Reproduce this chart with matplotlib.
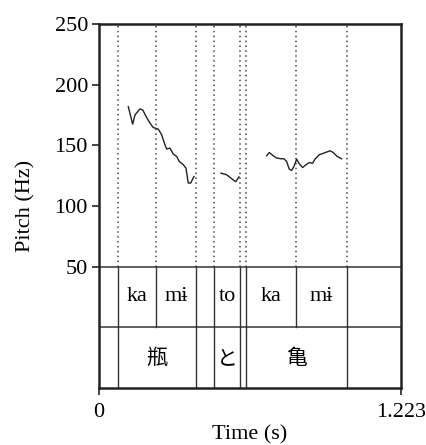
import matplotlib
matplotlib.use("Agg")
import matplotlib.pyplot as plt

# pitch contour pieces (time in s, F0 in Hz)
seg1_t = [0.1186, 0.1364, 0.1457, 0.1660, 0.1769, 0.1931, 0.2065, 0.2198,
          0.2401, 0.2538, 0.2672, 0.2741, 0.2874, 0.3008, 0.3146, 0.3251,
          0.3413, 0.3522, 0.3615, 0.3713, 0.3846]
seg1_f = [181.9, 167.4, 175.1, 180.0, 179.2, 172.9, 168.3, 164.7,
          163.3, 158.6, 150.4, 146.9, 147.7, 142.8, 140.8, 136.7,
          134.0, 131.2, 118.9, 118.9, 124.3]
seg2_t = [0.4939, 0.5170, 0.5534, 0.5668]
seg2_f = [127.1, 125.7, 120.0, 124.0]
seg3_t = [0.6790, 0.6895, 0.7057, 0.7194, 0.7397, 0.7490, 0.7599, 0.7704,
          0.7802, 0.7895, 0.8004, 0.8109, 0.8247, 0.8380, 0.8514, 0.8652,
          0.8745, 0.8919, 0.9109, 0.9352, 0.9486, 0.9648, 0.9826]
seg3_f = [141.4, 144.1, 141.4, 139.5, 138.9, 138.9, 136.7, 130.4,
          129.3, 132.6, 138.6, 134.8, 131.7, 134.0, 135.8, 135.3,
          138.6, 142.2, 143.6, 145.5, 144.1, 140.8, 138.9]

# TextGrid tiers
syl_bounds = [0.0757, 0.2296, 0.3927, 0.4668, 0.5721, 0.5939, 0.7976, 1.0053]
syl_start = [0.0757, 0.2296, 0.4668, 0.5939, 0.7976]
syl_end = [0.2296, 0.3927, 0.5721, 0.7976, 1.0053]
syl_text = ["ka", "mɨ", "to", "ka", "mɨ"]
word_bounds = [0.0757, 0.3927, 0.4668, 0.5721, 0.5939, 1.0053]
word_start = [0.0757, 0.4668, 0.5939]
word_end = [0.3927, 0.5721, 1.0053]
word_text = ["瓶", "と", "亀"]

t_max = 1.223
f_min, f_max = 50, 250
tier_h = 50

serif = ["Liberation Serif", "DejaVu Serif"]
cjk = ["Noto Sans CJK JP", "DejaVu Sans"]

fig = plt.figure(figsize=(4.26, 4.45), dpi=100)
ax = fig.add_axes([0.2324, 0.1281, 0.7089, 0.8180])

# dotted boundary lines through the pitch area
for b in syl_bounds:
    ax.plot([b, b], [f_min, f_max], color="#444444", linestyle=(0, (1, 2.2)),
            linewidth=1.1)

for t, f in [(seg1_t, seg1_f), (seg2_t, seg2_f), (seg3_t, seg3_f)]:
    ax.plot(t, f, color="#222222", linewidth=1.0)

# tier separators
for y in [f_min, f_min - tier_h]:
    ax.axhline(y, color="#444444", linewidth=1.2)
for b in syl_bounds:
    ax.plot([b, b], [f_min - tier_h, f_min], color="#333333", linewidth=1.0)
for b in word_bounds:
    ax.plot([b, b], [f_min - 2 * tier_h, f_min - tier_h], color="#333333", linewidth=1.0)

for s, e, txt in zip(syl_start, syl_end, syl_text):
    ax.text((s + e) / 2, f_min - tier_h / 2, txt, ha="center", va="center",
            fontsize=16, family=serif)
for s, e, txt in zip(word_start, word_end, word_text):
    ax.text((s + e) / 2, f_min - 1.5 * tier_h, txt, ha="center", va="center",
            fontsize=15, family=cjk)

ax.set_xlim(0, t_max)
ax.set_ylim(f_min - 2 * tier_h, f_max)
ax.set_yticks([50, 100, 150, 200, 250])
ax.set_xticks([0, t_max])
ax.set_xticklabels(["0", "1.223"])
for lab in ax.get_xticklabels() + ax.get_yticklabels():
    lab.set_family(serif)
    lab.set_fontsize(16)
ax.tick_params(direction="out", length=5, width=1.2, color="#222222", pad=3)
ax.tick_params(axis="x", pad=6)

for sp in ax.spines.values():
    sp.set_linewidth(1.8)
    sp.set_color("#222222")

ax.set_xlabel("Time (s)", fontsize=16, family=serif, labelpad=2)
ax.set_ylabel("Pitch (Hz)", fontsize=16, family=serif, labelpad=14)

fig.savefig("out.png", dpi=100)
